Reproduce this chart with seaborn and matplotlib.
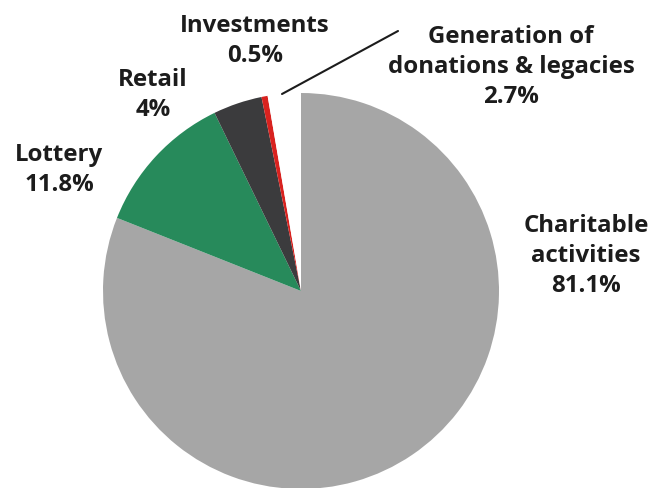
import matplotlib
matplotlib.use("Agg")
import matplotlib.pyplot as plt
import seaborn as sns

categories = ["Charitable\nactivities", "Lottery", "Retail", "Investments", "Generation of\ndonations & legacies"]
values = [81.1, 11.8, 4.0, 0.5, 2.7]
value_labels = ["81.1%", "11.8%", "4%", "0.5%", "2.7%"]
colors = ["#a6a6a6", "#278a5b", "#3b3b3d", "#d8221f", "#ffffff"]

sns.set_theme(style="white")
plt.rcParams['font.family'] = ['Open Sans', 'DejaVu Sans']

W, H = 662, 489
fig = plt.figure(figsize=(W / 100, H / 100), dpi=100)
ax = fig.add_axes([0, 0, 1, 1])

cx, cy, r = 301, H - 292, 198
ax.pie(values, colors=colors, startangle=90, counterclock=False,
       center=(cx, cy), radius=r, wedgeprops=dict(linewidth=0),
       frame=True)
ax.set_xlim(0, W)
ax.set_ylim(0, H)
ax.set_aspect("equal")
ax.axis("off")

label_pos = [(586, 256), (59, 170), (153, 95), (255, 41), (511, 67)]
for name, vl, (x, y) in zip(categories, value_labels, label_pos):
    ax.text(x, H - y, name + "\n" + vl, ha="center", va="center",
            fontsize=17.3, fontweight="bold", color="#1c1c1c", linespacing=1.32)

ax.plot([282, 398], [H - 95, H - 32], color="#1c1c1c", lw=1.5)

fig.savefig("out.png", dpi=100, facecolor="white")
